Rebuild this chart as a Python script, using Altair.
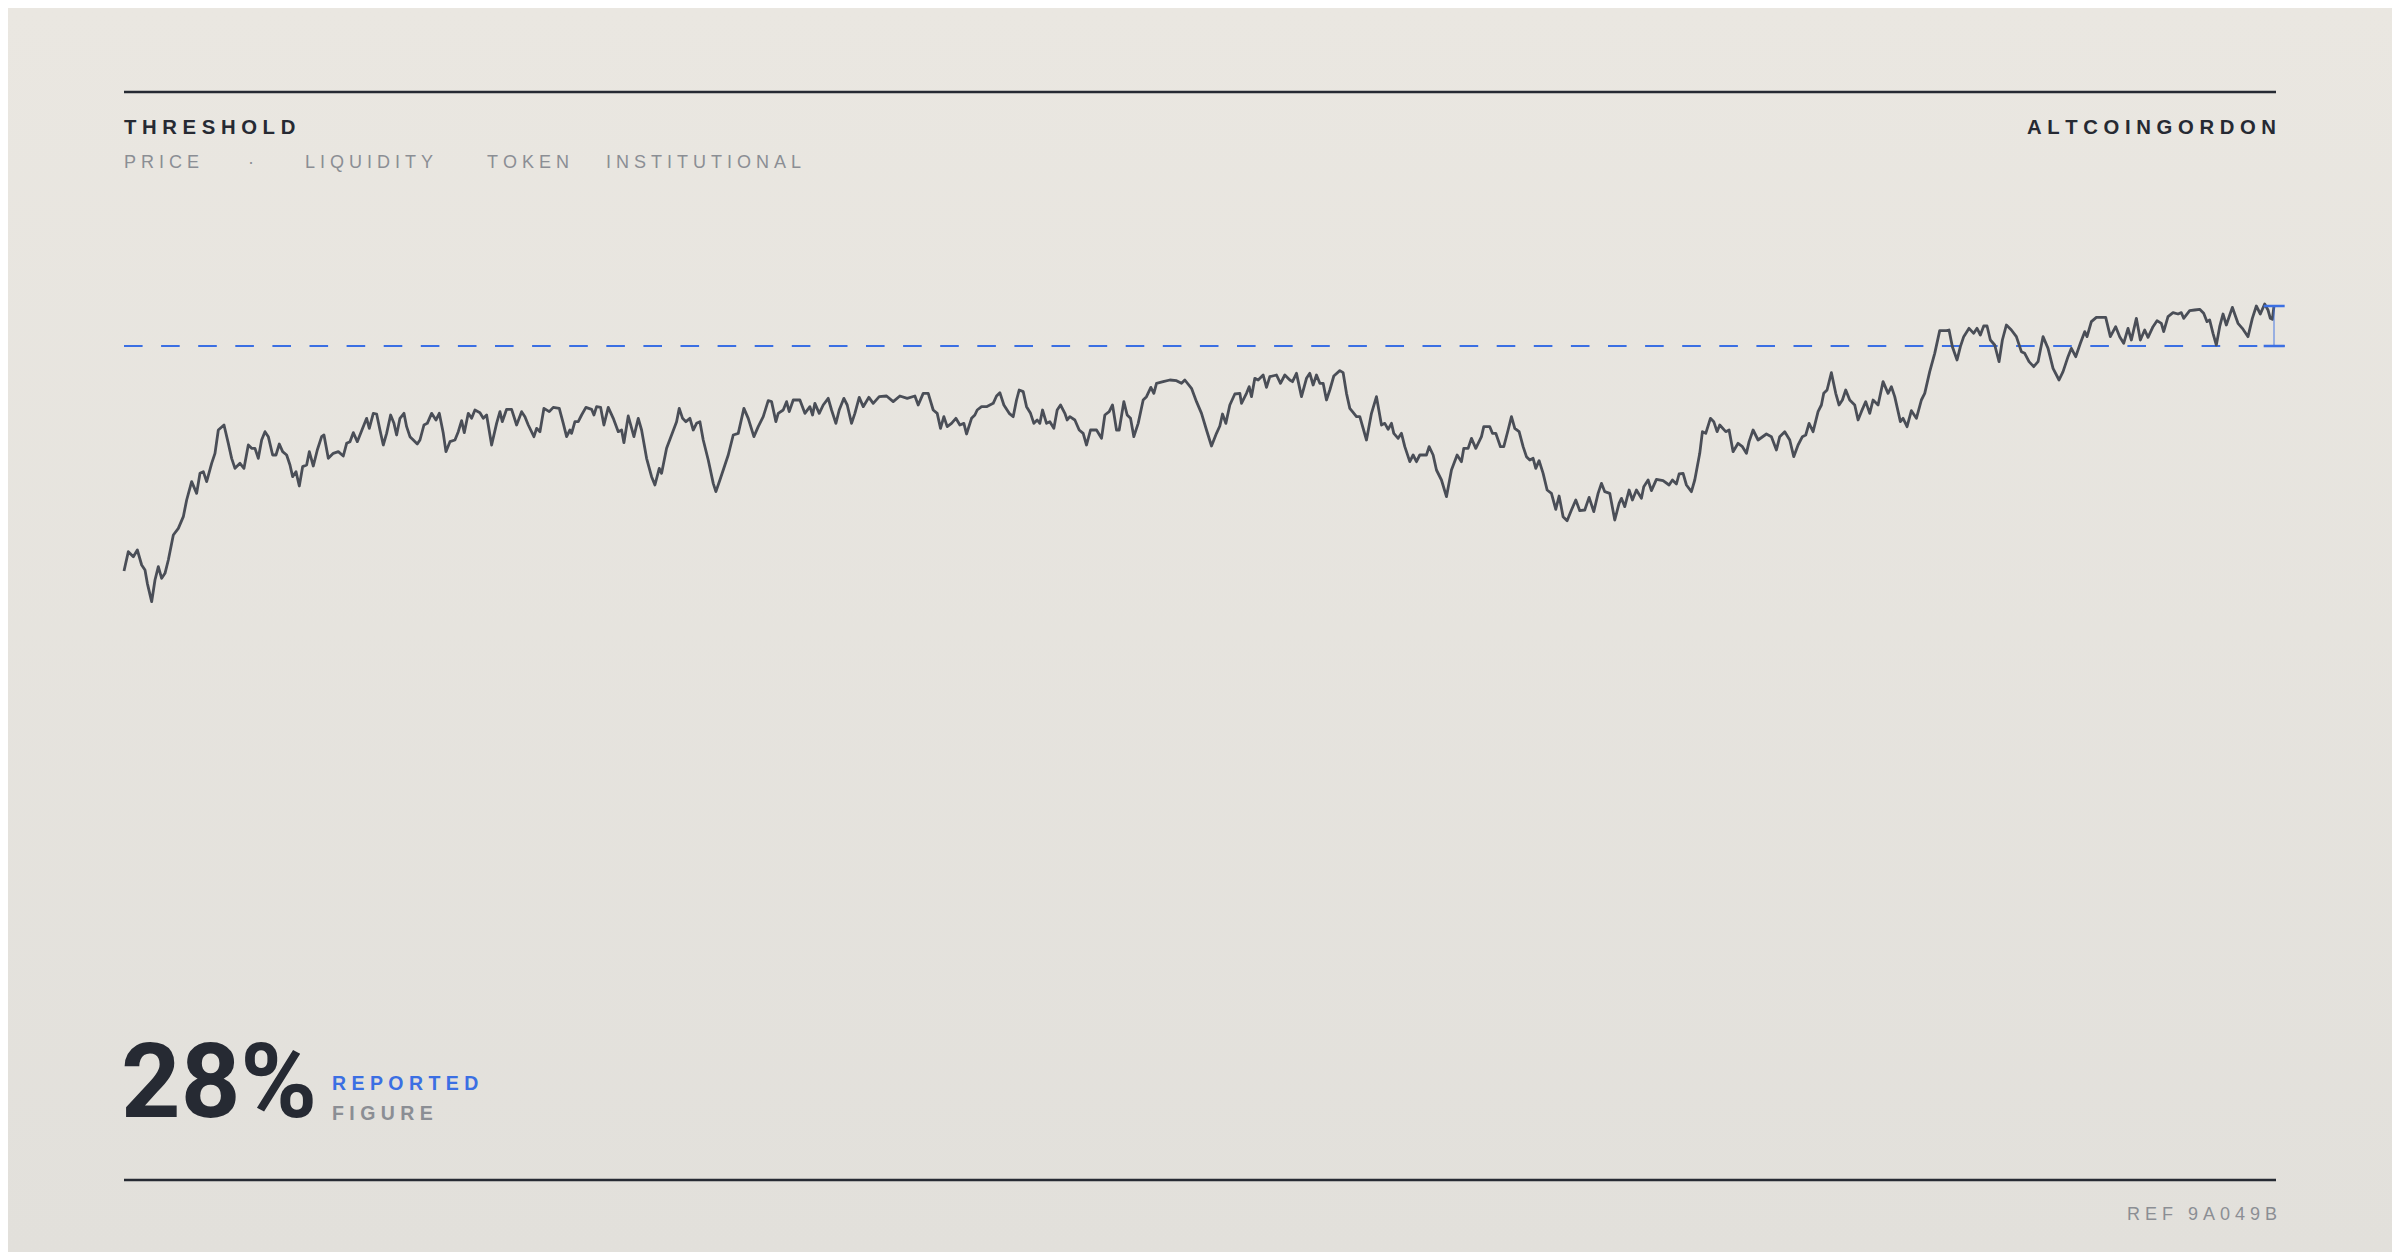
import altair as alt
import pandas as pd

# ---- data (time index t, value v) ----
T_A = [0,13,28,40,53,63,70,83,93,103,113,123,133,148,163,178,188,203,218,228,
       238,248,263,273,283,300,313,323,333,348,360,373,383,393,403,413,423,433,446,456,
       466,476,488,498,506,516,526,536,548,556,568,580,593,600,613,628,643,658,668,678,
       688,700,716,728,736,748,758,768,778,788,800,810,818,828,840,848,858,868,880,888,
       900,910,923,936,946,958,966,978,993,1003,1013,1021,1033,1043,1053,1068]
V_A = [225,283,268,288,243,228,188,133,198,238,203,218,258,333,353,388,438,493,458,518,
       523,493,548,578,648,663,608,563,533,548,533,603,593,593,563,618,643,628,573,573,
       606,583,573,543,508,523,480,538,543,583,540,588,628,633,563,578,583,570,608,613,
       640,613,653,683,653,698,696,648,603,638,693,668,633,683,698,658,628,618,606,618,
       663,668,698,678,698,638,583,613,618,643,676,640,698,683,708,700]
T_B = [1078,1088,1103,1118,1128,1135,1148,1163,1178,1193,1203,1213,1230,1238,1248,1260,1276,1288,1306,1318,
       1328,1338,1343,1353,1363,1373,1386,1403,1410,1418,1430,1440,1453,1468,1483,1493,1500,1513,1530,1543,
       1553,1568,1583,1593,1606,1613,1628,1643,1658,1666,1676,1686,1698,1708,1718,1728,1738,1753,1768,1776,
       1788,1803,1813,1828,1843,1860,1873,1890,1903,1918,1933,1943,1956,1963,1978,1988,1996,2008,2028,2043,
       2058,2066,2073,2086,2098,2113]
V_B = [683,693,603,668,703,673,710,710,663,703,688,663,628,653,643,713,703,716,713,668,
       628,648,638,673,673,693,716,710,693,718,716,663,716,683,643,648,610,690,628,683,
       648,563,508,483,533,518,593,633,673,713,683,673,683,648,668,673,618,558,488,463,
       498,543,573,633,638,713,683,628,658,688,736,733,673,698,708,733,703,738,738,698,
       718,693,728,698,723,743]
T_C = [2123,2136,2146,2160,2170,2183,2193,2206,2218,2235,2248,2266,2288,2308,2328,2350,2373,2383,2398,2413,
       2428,2440,2450,2460,2470,2483,2496,2508,2520,2528,2543,2553,2560,2573,2588,2608,2618,2628,2640,2656,
       2668,2678,2686,2698,2708,2720,2730,2740,2748,2756,2768,2778,2790,2800,2810,2823,2830,2838,2853,2866,
       2878,2888,2900,2918,2933,2943,2956,2966,2978,2986,3000,3010,3020,3030,3043,3058,3068,3081,3090,3098,
       3118,3138,3158]
V_C = [708,668,708,743,723,668,698,746,718,746,728,748,750,733,750,743,750,723,758,758,
       708,698,653,688,658,668,683,663,668,636,683,693,708,718,718,728,750,760,723,698,
       688,738,768,763,718,698,668,678,668,708,668,673,653,708,723,698,678,688,678,648,
       638,603,648,648,623,693,703,723,648,648,733,693,683,628,668,738,748,776,758,788,
       793,798,796]
T_D = [3173,3183,3203,3218,3233,3248,3263,3278,3288,3296,3306,3318,3333,3348,3353,3368,3376,3383,3393,3403,
       3418,3428,3438,3458,3470,3483,3498,3506,3518,3533,3548,3558,3568,3578,3588,3598,3608,3618,3630,3648,
       3658,3668,3678,3686,3698,3708,3728,3743,3758,3773,3783,3793,3803,3810,3823,3833,3843,3858,3868,3878,
       3888,3908,3916,3928,3938,3953,3968,3983,4000,4013,4020,4033,4043,4056,4073,4080,4098,4106,4116,4130,
       4140,4153,4163,4173,4186,4198,4208,4218]
V_D = [788,798,773,733,698,648,600,638,660,696,668,723,756,758,728,758,778,748,803,798,
       813,776,808,813,788,813,798,793,818,748,803,818,783,813,788,788,738,768,810,826,
       820,758,713,703,688,688,618,698,748,663,668,650,668,638,623,638,598,553,573,553,
       573,573,598,573,528,498,448,528,573,553,593,593,623,593,628,658,658,638,638,598,
       598,648,688,653,643,598,568,558]
T_E = [4228,4236,4246,4258,4270,4283,4296,4306,4318,4330,4343,4356,4368,4383,4396,4410,4423,4433,4443,4458,
       4473,4486,4493,4503,4516,4526,4538,4553,4560,4573,4583,4598,4618,4636,4646,4658,4666,4678,4688,4703,
       4713,4728,4736,4746,4760,4770,4780,4788,4806,4816,4828,4843,4856,4868,4876,4888,4903,4928,4943,4958,
       4968,4983,4998,5010,5023,5036,5046,5056,5068,5083,5093,5100,5110,5123,5136,5146,5156,5166,5178,5193,
       5203,5213,5226,5238,5248,5263]
V_E = [563,533,556,518,468,458,410,450,388,376,408,438,406,408,446,403,458,488,463,458,
       378,428,443,418,468,438,468,443,478,498,466,500,496,483,498,486,516,518,483,463,
       498,578,643,638,683,673,643,663,643,648,583,608,598,578,613,648,618,636,628,588,
       628,643,618,568,603,628,633,668,643,703,723,758,768,820,758,723,738,768,738,723,
       678,703,733,698,738,723]
T_F = [5278,5293,5303,5313,5330,5338,5350,5363,5378,5393,5403,5418,5433,5448,5468,5476,5486,5500,5510,5520,
       5536,5550,5560,5570,5580,5590,5600,5613,5626,5636,5648,5663,5678,5693,5703,5716,5730,5743,5758,5773,
       5788,5806,5818,5833,5843,5856,5870,5883,5890,5903,5918,5946,5960,5976,5988,6000,6013,6023,6038,6050,
       6063,6073,6088,6100,6113,6120,6133,6148,6163,6173,6180,6198,6213,6228,6240,6250,6258,6268,6278,6288,
       6298,6308,6326,6336,6343,6356,6373,6386,6398,6410,6423,6433,6440,6446,6451]
V_F = [793,758,778,748,673,683,658,706,683,738,758,823,878,946,946,948,898,858,898,928,
       953,938,953,933,960,960,918,903,853,918,963,948,928,883,878,853,838,853,928,893,
       833,798,823,868,893,868,908,943,928,973,986,986,928,958,928,908,953,918,983,918,
       948,926,958,976,968,943,988,1000,996,1000,983,1006,1008,1010,998,973,978,938,903,958,
       996,963,1016,988,968,953,928,983,1020,996,1026,1008,983,980,1020]

THRESHOLD_LEVEL = 900

TITLE = "THRESHOLD"
BRAND = "ALTCOINGORDON"
SUB_WORDS = ["PRICE", "·", "LIQUIDITY", "TOKEN", "INSTITUTIONAL"]
BIG_FIGURE = "28%"
BIG_LABEL_1 = "REPORTED"
BIG_LABEL_2 = "FIGURE"
REF_TEXT = "REF 9A049B"

# ---- layout / style ----
W, H = 2384, 1244
DARK = "#262a33"
GRAY = "#8b8e94"
BLUE = "#3b6fe3"
LINE = "#4a4e57"
SANS = "Liberation Sans"

T = T_A + T_B + T_C + T_D + T_E + T_F
V = V_A + V_B + V_C + V_D + V_E + V_F
series = pd.DataFrame({"t": T, "v": V})

xs = alt.Scale(domain=[0, 6451], range=[116, 2266])
ys = alt.Scale(domain=[0, 900], range=[638, 338])


def spaced(s):
    return "\u00a0".join(ch if ch != " " else "\u00a0" for ch in s)


def label(text, x, y, size, color, weight="normal", align="left", font=SANS):
    return alt.Chart(pd.DataFrame({"s": [text]})).mark_text(
        align=align, baseline="alphabetic", font=font, fontSize=size,
        fontWeight=weight, color=color
    ).encode(x=alt.value(x), y=alt.value(y), text="s:N")


one = pd.DataFrame({"k": [0]})

bg = alt.Chart(one).mark_rect(
    fill=alt.Gradient(
        gradient="linear",
        stops=[alt.GradientStop(color="#eae7e1", offset=0),
               alt.GradientStop(color="#e2e0db", offset=1)],
        x1=0, x2=0, y1=0, y2=1,
    )
).encode(x=alt.value(0), x2=alt.value(W), y=alt.value(0), y2=alt.value(H))

top_rule = alt.Chart(one).mark_rule(color=DARK, strokeWidth=2.5).encode(
    x=alt.value(116), x2=alt.value(2268), y=alt.value(84))
bottom_rule = alt.Chart(one).mark_rule(color=DARK, strokeWidth=2.5).encode(
    x=alt.value(116), x2=alt.value(2268), y=alt.value(1172))

last_t, last_v = T[-1], V[-1]
thr = pd.DataFrame({"t0": [T[0]], "t1": [last_t + 32], "v": [THRESHOLD_LEVEL]})
dash = alt.Chart(thr).mark_rule(color=BLUE, strokeWidth=2.2, strokeDash=[18.6, 18.5]).encode(
    x=alt.X("t0:Q", scale=xs, axis=None), x2="t1:Q",
    y=alt.Y("v:Q", scale=ys, axis=None))

line = alt.Chart(series).mark_line(color=LINE, strokeWidth=2.8, strokeJoin="round").encode(
    x=alt.X("t:Q", scale=xs, axis=None),
    y=alt.Y("v:Q", scale=ys, axis=None))

gap = pd.DataFrame({"t": [last_t], "v": [last_v], "thr": [THRESHOLD_LEVEL]})
gap_base = alt.Chart(gap).transform_calculate(lo="datum.t - 31", hi="datum.t + 32")
gap_v = gap_base.mark_rule(color=BLUE, strokeWidth=1.4, opacity=0.65).encode(
    x=alt.X("t:Q", scale=xs, axis=None),
    y=alt.Y("v:Q", scale=ys, axis=None), y2="thr:Q")
cap_top = gap_base.mark_rule(color=BLUE, strokeWidth=2.5).encode(
    x=alt.X("lo:Q", scale=xs, axis=None), x2="hi:Q",
    y=alt.Y("v:Q", scale=ys, axis=None))
cap_bot = gap_base.mark_rule(color=BLUE, strokeWidth=2.5).encode(
    x=alt.X("lo:Q", scale=xs, axis=None), x2="hi:Q",
    y=alt.Y("thr:Q", scale=ys, axis=None))

title = label(spaced(TITLE), 116, 126, 20.3, DARK, weight="bold")
brand = label(spaced(BRAND), 2268, 126, 20.3, DARK, weight="bold", align="right")

sub_x = [116, 240, 297, 479, 598]
subs = [label(spaced(w), x, 160, 18, GRAY) for w, x in zip(SUB_WORDS, sub_x)]

big = label(BIG_FIGURE, 113, 1109, 104, DARK, weight="bold", font="Roboto")
lab1 = label(spaced(BIG_LABEL_1), 324, 1082, 19.5, BLUE, weight="bold")
lab2 = label(spaced(BIG_LABEL_2), 324, 1112, 19.5, GRAY, weight="bold")
ref = label(spaced(REF_TEXT), 2269, 1212, 18, GRAY, align="right")

chart = alt.layer(
    bg, top_rule, bottom_rule, dash, line, gap_v, cap_top, cap_bot,
    title, brand, *subs, big, lab1, lab2, ref
).properties(
    width=W, height=H,
    autosize=alt.AutoSizeParams(type="none"),
    padding=0,
).configure_view(stroke=None).configure(background="#e2e0db")

chart.save("out.html", embed_options={"renderer": "svg", "actions": False})
